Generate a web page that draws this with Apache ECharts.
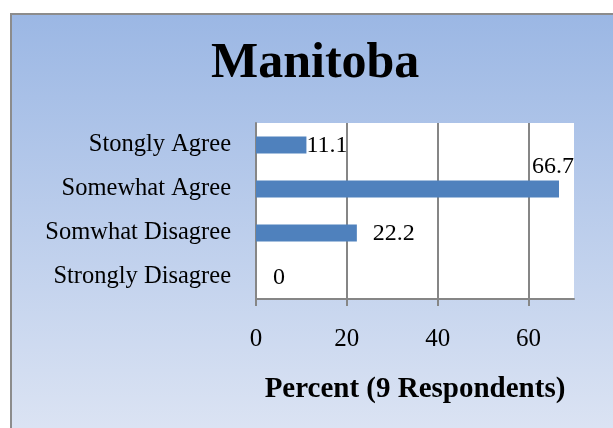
<!DOCTYPE html>
<html>
<head>
<meta charset="utf-8">
<script src="https://cdn.jsdelivr.net/npm/echarts@6/dist/echarts.min.js"></script>
<style>
  html, body { margin: 0; padding: 0; background: #fff; }
  #chart { width: 613px; height: 428px; }
</style>
</head>
<body>
<div id="chart"></div>
<script>
// Survey responses, listed top to bottom
const categories = ['Stongly Agree', 'Somewhat Agree', 'Somwhat Disagree', 'Strongly Disagree'];
const percents = [11.1, 66.7, 22.2, 0];
const tickValues = [0, 20, 40, 60];

const titleText = 'Manitoba';
const axisTitle = 'Percent (9 Respondents)';

// Label placement for each bar's value text
const labelPlacement = [
  { position: 'right', distance: 0, offset: [0, 1] },
  { position: 'insideTopRight', distance: 0, offset: [15, -26] },
  { position: 'right', distance: 16, offset: [0, 1] },
  { position: 'right', distance: 17, offset: [0, 1] }
];

const serif = '"Liberation Serif", "Times New Roman", serif';

const chart = echarts.init(document.getElementById('chart'), null, { renderer: 'canvas' });

chart.setOption({
  backgroundColor: '#ffffff',
  animation: false,
  graphic: [
    {
      type: 'rect',
      z: -10,
      silent: true,
      shape: { x: 11, y: 14, width: 640, height: 440 },
      style: {
        fill: {
          type: 'linear', x: 0, y: 0, x2: 0, y2: 1,
          colorStops: [
            { offset: 0, color: '#9bb7e4' },
            { offset: 1, color: '#dfe6f4' }
          ]
        },
        stroke: '#8c8c8c',
        lineWidth: 2
      }
    },
    {
      type: 'text',
      left: 211,
      top: 39,
      style: {
        text: titleText,
        font: 'bold 50px ' + serif,
        fill: '#000'
      }
    }
  ],
  grid: {
    left: 256,
    top: 123,
    right: 39,
    bottom: 129,
    show: true,
    backgroundColor: '#ffffff',
    borderWidth: 0
  },
  xAxis: {
    type: 'value',
    min: 0,
    max: 70,
    interval: 20,
    name: axisTitle,
    nameLocation: 'middle',
    nameGap: 76,
    nameTextStyle: {
      fontFamily: serif,
      fontWeight: 'bold',
      fontSize: 29,
      color: '#000'
    },
    axisLine: { show: true, lineStyle: { color: '#868686', width: 2 } },
    axisTick: { show: true, length: 7, customValues: tickValues, lineStyle: { color: '#868686', width: 2 } },
    axisLabel: {
      customValues: tickValues,
      margin: 28,
      fontFamily: serif,
      fontSize: 25,
      color: '#000'
    },
    splitLine: { show: true, lineStyle: { color: '#868686', width: 2 } }
  },
  yAxis: {
    type: 'category',
    inverse: true,
    data: categories,
    axisLine: { show: true, lineStyle: { color: '#868686', width: 2 } },
    axisTick: { show: false },
    axisLabel: {
      margin: 25,
      fontFamily: serif,
      fontSize: 24.5,
      color: '#000'
    },
    splitLine: { show: false }
  },
  series: [
    {
      type: 'bar',
      barWidth: 17,
      itemStyle: { color: '#4f81bd' },
      data: percents.map((v, i) => ({
        value: v,
        label: Object.assign({}, labelPlacement[i])
      })),
      label: {
        show: true,
        fontFamily: serif,
        fontSize: 24,
        color: '#000',
        formatter: p => String(p.value)
      }
    }
  ]
});
</script>
</body>
</html>
